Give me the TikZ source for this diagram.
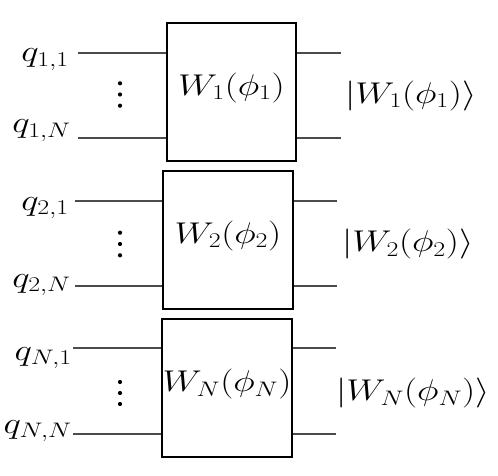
\RequirePackage{fix-cm}
\documentclass[tikz,border=0pt]{standalone}
\newcommand\wm[1]{\scalebox{1.23}[1]{$#1$}}
\tikzset{
  gate/.style={draw=black, line width=1.8pt, minimum width=#1, inner sep=0pt},
  gate/.default=129pt,
  wire/.style={draw=black!70, line width=1.2pt},
  lbl/.style={inner sep=0pt, font=\fontsize{30}{34}\selectfont},
  vdot/.style={circle, fill=black, inner sep=0pt, minimum size=4.2pt}
}
\begin{document}
\begin{tikzpicture}[x=1pt,y=-1pt]
\useasboundingbox (0,0) rectangle (498,476);
% gates
\node[gate=129pt, minimum height=138pt] (g1) at (231.5,92) {};
\node[gate=130pt, minimum height=138pt] (g2) at (228,240) {};
\node[gate=130pt, minimum height=138pt] (g3) at (227,388) {};
\node[lbl] (w1) at (231.5,88) {\wm{W_1(\phi_1)}};
\node[lbl] (w2) at (228,236) {\wm{W_2(\phi_2)}};
\node[lbl] (w3) at (227,384) {\wm{W_N(\phi_N)}};
% input labels
\node[lbl, anchor=base east] (q11) at (69,62) {\wm{q_{1,1}}};
\node[lbl, anchor=base east] (q1N) at (71,133) {\wm{q_{1,N}}};
\node[lbl, anchor=base east] (q21) at (69,210) {\wm{q_{2,1}}};
\node[lbl, anchor=base east] (q2N) at (71,287) {\wm{q_{2,N}}};
\node[lbl, anchor=base east] (qN1) at (72,360) {\wm{q_{N,1}}};
\node[lbl, anchor=base east] (qNN) at (72,433) {\wm{q_{N,N}}};
% wire start coordinates
\coordinate (a11) at (78,53);
\coordinate (a1N) at (78,138);
\coordinate (a21) at (75,201);
\coordinate (a2N) at (75,286);
\coordinate (aN1) at (73,348);
\coordinate (aNN) at (73,434);
\coordinate (b11) at (341,53);
\coordinate (b1N) at (341,138);
\coordinate (b21) at (337,201);
\coordinate (b2N) at (337,286);
\coordinate (bN1) at (336,348);
\coordinate (bNN) at (336,434);
% wires
\draw[wire] (a11) -- (g1.west |- a11);
\draw[wire] (a1N) -- (g1.west |- a1N);
\draw[wire] (g1.east |- b11) -- (b11);
\draw[wire] (g1.east |- b1N) -- (b1N);
\draw[wire] (a21) -- (g2.west |- a21);
\draw[wire] (a2N) -- (g2.west |- a2N);
\draw[wire] (g2.east |- b21) -- (b21);
\draw[wire] (g2.east |- b2N) -- (b2N);
\draw[wire] (aN1) -- (g3.west |- aN1);
\draw[wire] (aNN) -- (g3.west |- aNN);
\draw[wire] (g3.east |- bN1) -- (bN1);
\draw[wire] (g3.east |- bNN) -- (bNN);
% vertical dots
\node[vdot] (d1a) at (120,83.3) {};
\node[vdot] (d1b) at (120,94.5) {};
\node[vdot] (d1c) at (120,105.7) {};
\node[vdot] (d2a) at (120,232.7) {};
\node[vdot] (d2b) at (120,244) {};
\node[vdot] (d2c) at (120,255.3) {};
\node[vdot] (d3a) at (120,382) {};
\node[vdot] (d3b) at (120,393) {};
\node[vdot] (d3c) at (120,404) {};
% output kets
\node[lbl, anchor=west] (k1) at (345,96) {\wm{|W_1(\phi_1)\rangle}};
\node[lbl, anchor=west] (k2) at (342,244) {\wm{|W_2(\phi_2)\rangle}};
\node[lbl, anchor=west] (k3) at (336,393) {\wm{|W_N(\phi_N)\rangle}};
\end{tikzpicture}
\end{document}
